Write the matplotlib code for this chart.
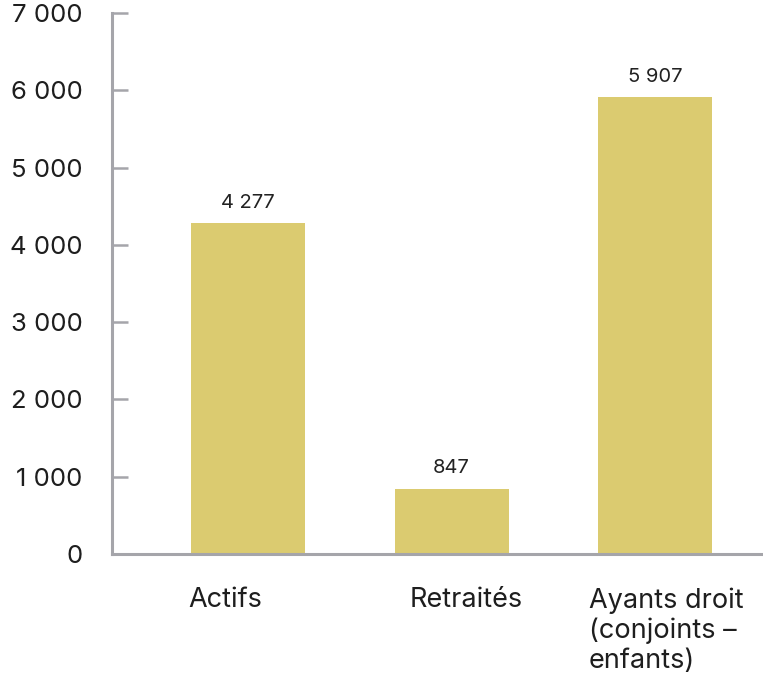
import matplotlib.pyplot as plt

categories = ['Actifs', 'Retraités', 'Ayants droit\n(conjoints –\nenfants)']
values = [4277, 847, 5907]
yticks = [0, 1000, 2000, 3000, 4000, 5000, 6000, 7000]

def fmt(v):
    return f"{v:,}".replace(",", " ")

plt.rcParams['font.family'] = ['Inter', 'DejaVu Sans']

fig = plt.figure(figsize=(7.63, 6.74), dpi=100)
ax = fig.add_axes([0.1468, 0.178, 0.8532, 0.8027])

x = list(range(len(categories)))
bars = ax.bar(x, values, width=0.56, color='#dbcb70')
for b, v in zip(bars, values):
    ax.annotate(fmt(v), (b.get_x() + b.get_width() / 2, v), xytext=(0, 8),
                textcoords='offset points', ha='center', va='bottom',
                fontsize=14.5, color='#222222')

ax.set_xlim(-0.668, 2.53)
ax.set_ylim(0, 7000)
ax.set_yticks(yticks)
ax.set_yticklabels([fmt(t) for t in yticks])
ax.set_xticks(x)
ax.set_xticklabels([])

# category labels sit a bit off the bar centres in the source
shifts = [-23, 15, 11]
for xi, cat, dx in zip(x, categories, shifts):
    ax.annotate(cat, (xi, 0), xycoords=('data', 'axes fraction'),
                xytext=(dx * 0.72, -24), textcoords='offset points',
                ha='center', va='top', multialignment='left', linespacing=1.18,
                fontsize=19.5, color='#1e1e1e', annotation_clip=False)

for s in ['top', 'right']:
    ax.spines[s].set_visible(False)
for s in ['left', 'bottom']:
    ax.spines[s].set_color('#a5a5aa')
    ax.spines[s].set_linewidth(2.2)

ax.tick_params(axis='y', direction='in', length=11.5, width=1.8, color='#a5a5aa',
               labelsize=18.5, labelcolor='#1e1e1e', pad=21)
ax.tick_params(axis='x', length=0)

fig.savefig('out.png', dpi=100)
